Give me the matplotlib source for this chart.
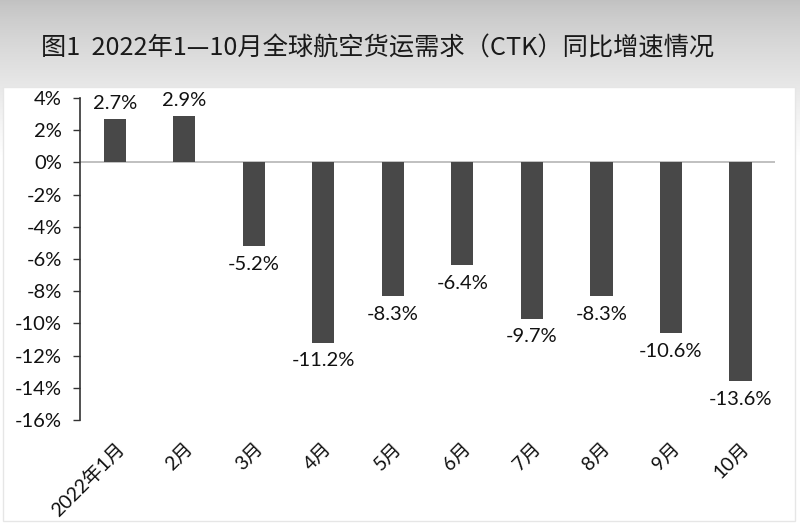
import numpy as np
import matplotlib
matplotlib.use("Agg")
import matplotlib.pyplot as plt
from matplotlib.patches import Rectangle

plt.rcParams['font.family'] = ['Lato', 'Noto Sans CJK SC', 'DejaVu Sans']

categories = ['2022年1月', '2月', '3月', '4月', '5月', '6月', '7月', '8月', '9月', '10月']
values = [2.7, 2.9, -5.2, -11.2, -8.3, -6.4, -9.7, -8.3, -10.6, -13.6]
yticks = [4, 2, 0, -2, -4, -6, -8, -10, -12, -14, -16]
title = '图1  2022年1—10月全球航空货运需求（CTK）同比增速情况'

fig = plt.figure(figsize=(8, 5.26), dpi=100)

# background gradient
bg = fig.add_axes([0, 0, 1, 1], zorder=-10)
grad = np.linspace(0, 1, 256).reshape(-1, 1)
cols = 0.76 + 0.24 * np.clip(grad * 3.4, 0, 1) ** 0.8
bg.imshow(np.dstack([cols, cols, cols]), aspect='auto', extent=[0, 1, 0, 1], origin='upper')
bg.add_patch(Rectangle((0.004, 0.01), 0.99, 0.825, transform=bg.transAxes,
                       facecolor='white', edgecolor='#e6e6e6', lw=1))
bg.set_xlim(0, 1); bg.set_ylim(0, 1)
bg.axis('off')

fig.text(0.472, 0.908, title, ha='center', va='center', fontsize=18.2,
         color='#1a1a1a', family=['Noto Sans CJK SC', 'DejaVu Sans'])

ax = fig.add_axes([0.1, 0.2015, 0.869, 0.6122])
ax.set_facecolor('none')
x = np.arange(len(categories))
ax.bar(x, values, width=0.32, color='#484848', zorder=3)
ax.axhline(0, color='#b5b5b5', lw=1.2, zorder=2)

for xi, v in zip(x, values):
    if v >= 0:
        ax.annotate(f'{v:.1f}%', (xi, v), xytext=(0, 5), textcoords='offset points',
                    ha='center', va='bottom', fontsize=14.5, color='#111111')
    else:
        ax.annotate(f'{v:.1f}%', (xi, v), xytext=(0, -7), textcoords='offset points',
                    ha='center', va='top', fontsize=14.5, color='#111111')

ax.set_xlim(-0.5, 9.5)
ax.set_ylim(-16, 4)
ax.set_yticks(yticks)
ax.set_yticklabels([f'{t}%' for t in yticks], fontsize=14.5, color='#111111')
ax.set_xticks(x)
ax.set_xticklabels(categories, rotation=45, ha='right', rotation_mode='anchor',
                   fontsize=14, color='#111111')
ax.tick_params(axis='x', length=0, pad=14)
ax.tick_params(axis='y', length=5, width=1, color='#333333', pad=8)
for s in ['top', 'right', 'bottom']:
    ax.spines[s].set_visible(False)
ax.spines['left'].set_color('#333333')
ax.spines['left'].set_linewidth(1.2)

fig.savefig('out.png', dpi=100)
